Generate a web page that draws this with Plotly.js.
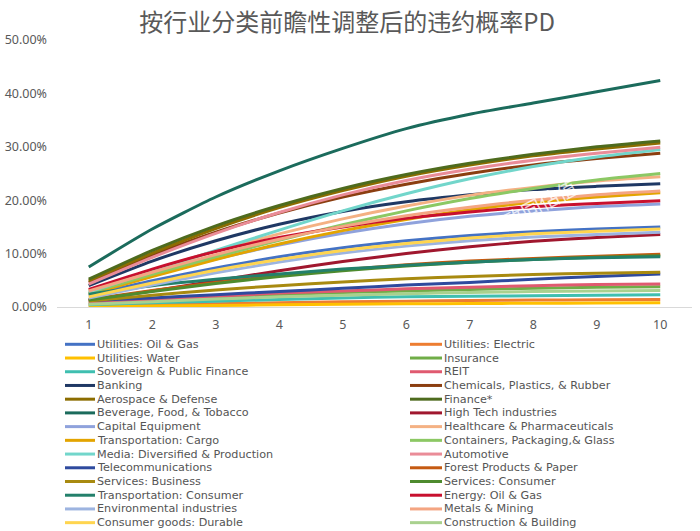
<!DOCTYPE html>
<html>
<head>
<meta charset="utf-8">
<script src="https://cdn.plot.ly/plotly-3.0.1.min.js"></script>
<style>html,body{margin:0;padding:0;background:#fff;}#chart{width:700px;height:531px;}</style>
</head>
<body>
<div id="chart"></div>
<script>
// ---- data (values in percent) ----
const years = [1, 2, 3, 4, 5, 6, 7, 8, 9, 10];
const yTickValues = [0, 10, 20, 30, 40, 50];
const yTickLabels = ['0.00%', '10.00%', '20.00%', '30.00%', '40.00%', '50.00%'];
const titleText = '按行业分类前瞻性调整后的违约概率PD';

const utilitiesOilGas      = [2.2, 4.9, 7.3, 9.4, 11.1, 12.4, 13.4, 14.1, 14.6, 15.0];
const utilitiesElectric    = [0.2, 0.4, 0.6, 0.8, 1.0, 1.1, 1.2, 1.3, 1.35, 1.4];
const utilitiesWater       = [0.1, 0.2, 0.3, 0.4, 0.5, 0.6, 0.65, 0.7, 0.75, 0.8];
const insurance            = [0.6, 1.2, 1.8, 2.3, 2.7, 3.0, 3.3, 3.5, 3.7, 3.8];
const sovereign            = [0.4, 0.8, 1.1, 1.4, 1.7, 1.9, 2.0, 2.1, 2.2, 2.3];
const reit                 = [0.7, 1.4, 2.0, 2.6, 3.0, 3.4, 3.7, 4.0, 4.2, 4.3];
const banking              = [4.0, 8.6, 12.4, 15.5, 17.9, 19.7, 21.0, 22.0, 22.6, 23.1];
const chemicals            = [4.6, 9.7, 14.0, 17.6, 20.6, 23.0, 25.0, 26.6, 27.8, 28.8];
const aerospace            = [4.9, 10.1, 14.7, 18.6, 21.8, 24.5, 26.6, 28.3, 29.6, 30.7];
const finance              = [5.2, 10.6, 15.2, 19.0, 22.2, 24.8, 26.9, 28.6, 30.0, 31.1];
const beverageFood         = [7.5, 14.6, 20.6, 25.5, 29.7, 33.4, 36.1, 38.2, 40.3, 42.4];
const highTech             = [1.2, 3.0, 4.9, 6.8, 8.5, 10.0, 11.3, 12.3, 13.0, 13.6];
const capitalEquipment     = [2.6, 5.9, 9.0, 11.6, 13.8, 15.6, 17.0, 18.0, 18.8, 19.3];
const healthcare           = [3.1, 6.9, 10.5, 13.7, 16.5, 18.9, 20.9, 22.4, 23.6, 24.4];
const transportCargo       = [2.4, 5.7, 8.9, 11.8, 14.3, 16.4, 18.2, 19.6, 20.6, 21.4];
const containers           = [2.6, 6.1, 9.4, 12.5, 15.4, 18.0, 20.3, 22.2, 23.8, 25.0];
const media                = [2.8, 6.7, 10.6, 14.4, 18.0, 21.2, 24.0, 26.3, 28.1, 29.5];
const automotive           = [4.3, 9.3, 13.8, 17.7, 21.0, 23.7, 25.8, 27.5, 28.8, 29.9];
const telecom              = [1.2, 1.7, 2.3, 2.9, 3.5, 4.1, 4.6, 5.2, 5.7, 6.2];
const forestProducts       = [1.4, 3.1, 4.6, 5.9, 7.0, 7.9, 8.6, 9.1, 9.5, 9.9];
const servicesBusiness     = [1.1, 2.2, 3.2, 4.0, 4.7, 5.3, 5.7, 6.1, 6.3, 6.5];
const servicesConsumer     = [1.3, 2.9, 4.4, 5.7, 6.8, 7.7, 8.4, 8.9, 9.3, 9.6];
const transportConsumer    = [2.4, 4.0, 5.2, 6.2, 7.1, 7.8, 8.4, 8.9, 9.2, 9.4];
const energyOilGas         = [3.3, 7.1, 10.4, 13.0, 15.0, 16.6, 17.8, 18.8, 19.4, 19.9];
const environmental        = [1.7, 4.1, 6.4, 8.4, 10.1, 11.4, 12.4, 13.1, 13.6, 14.0];
const metalsMining         = [3.0, 6.5, 9.8, 12.7, 15.1, 17.1, 18.7, 20.0, 21.0, 21.7];
const consumerDurable      = [1.9, 4.5, 6.9, 8.9, 10.6, 11.9, 12.9, 13.7, 14.2, 14.6];
const construction         = [0.5, 1.0, 1.5, 1.9, 2.2, 2.5, 2.7, 2.9, 3.0, 3.1];

const seriesNames = [
  'Utilities: Oil & Gas', 'Utilities: Electric',
  'Utilities: Water', 'Insurance',
  'Sovereign & Public Finance', 'REIT',
  'Banking', 'Chemicals, Plastics, & Rubber',
  'Aerospace & Defense', 'Finance*',
  'Beverage, Food, & Tobacco', 'High Tech industries',
  'Capital Equipment', 'Healthcare & Pharmaceuticals',
  'Transportation: Cargo', 'Containers, Packaging,& Glass',
  'Media: Diversified & Production', 'Automotive',
  'Telecommunications', 'Forest Products & Paper',
  'Services: Business', 'Services: Consumer',
  'Transportation: Consumer', 'Energy: Oil & Gas',
  'Environmental industries', 'Metals & Mining',
  'Consumer goods: Durable', 'Construction & Building'
];
const seriesValues = [
  utilitiesOilGas, utilitiesElectric,
  utilitiesWater, insurance,
  sovereign, reit,
  banking, chemicals,
  aerospace, finance,
  beverageFood, highTech,
  capitalEquipment, healthcare,
  transportCargo, containers,
  media, automotive,
  telecom, forestProducts,
  servicesBusiness, servicesConsumer,
  transportConsumer, energyOilGas,
  environmental, metalsMining,
  consumerDurable, construction
];
const seriesColors = [
  '#4472C4', '#ED7D31',
  '#FFC000', '#70AD47',
  '#3FBFB0', '#E05A70',
  '#1F3864', '#8B3E10',
  '#8C6D00', '#4E6B1E',
  '#1B6B5C', '#A0172E',
  '#8FA2DC', '#F4B183',
  '#E3A400', '#8CC864',
  '#72D6CB', '#EA8C98',
  '#2E4A9E', '#C55A11',
  '#A88A10', '#4E8B2E',
  '#23806B', '#C8102E',
  '#9DB4E0', '#F4A582',
  '#FFD54F', '#A9D18E'
];

// ---- layout geometry ----
const W = 700, H = 531;
const M = {l: 57, r: 8, t: 40, b: 224};
const plotW = W - M.l - M.r, plotH = H - M.t - M.b;
const px2x = p => (p - M.l) / plotW;
const px2y = p => (H - M.b - p) / plotH;

const traces = seriesNames.map((n, i) => ({
  x: years, y: seriesValues[i], name: n, type: 'scatter', mode: 'lines',
  line: {color: seriesColors[i], width: 3, shape: 'spline', smoothing: 0.6},
  showlegend: false, hoverinfo: 'skip'
}));

const shapes = [], annotations = [];
seriesNames.forEach((n, i) => {
  const col = i % 2, row = Math.floor(i / 2);
  const yPx = 344.3 + row * 13.72;
  const x0 = col === 0 ? 65 : 410, x1 = col === 0 ? 95 : 442, tx = col === 0 ? 96 : 443;
  shapes.push({type: 'line', xref: 'paper', yref: 'paper',
    x0: px2x(x0), x1: px2x(x1), y0: px2y(yPx), y1: px2y(yPx),
    line: {color: seriesColors[i], width: 3}});
  annotations.push({xref: 'paper', yref: 'paper', x: px2x(tx), y: px2y(yPx),
    xanchor: 'left', yanchor: 'middle', showarrow: false, text: n, borderpad: 0,
    font: {family: 'DejaVu Sans, sans-serif', size: 11.2, color: '#555555'}});
});
annotations.push({xref: 'paper', yref: 'paper', x: px2x(585), y: px2y(238),
  showarrow: false, text: '致同估值', textangle: -28,
  font: {family: 'Noto Sans CJK SC', size: 20, color: 'rgba(255,255,255,0.75)'}});

const layout = {
  width: W, height: H, margin: M,
  paper_bgcolor: '#fff', plot_bgcolor: '#fff',
  title: {text: titleText, x: 0.496, xref: 'container', xanchor: 'center', y: 0.957, yanchor: 'middle',
    font: {family: 'Noto Sans CJK SC', size: 24, color: '#595959'}},
  xaxis: {range: [0.5, 10.5], tickmode: 'array', tickvals: years, showgrid: false, zeroline: false,
    showline: true, linecolor: '#d9d9d9', linewidth: 1, ticks: '', ticklabelstandoff: 6,
    tickfont: {family: 'Noto Sans, sans-serif', size: 12.5, color: '#595959'}},
  yaxis: {range: [0, 50], tickmode: 'array', tickvals: yTickValues, ticktext: yTickLabels,
    showgrid: false, zeroline: false, showline: false, ticks: '', ticklabelstandoff: 9,
    tickfont: {family: 'Noto Sans, sans-serif', size: 12.5, color: '#595959'}},
  shapes: shapes, annotations: annotations, showlegend: false
};

Plotly.newPlot('chart', traces, layout, {staticPlot: true, displayModeBar: false});
</script>
</body>
</html>
